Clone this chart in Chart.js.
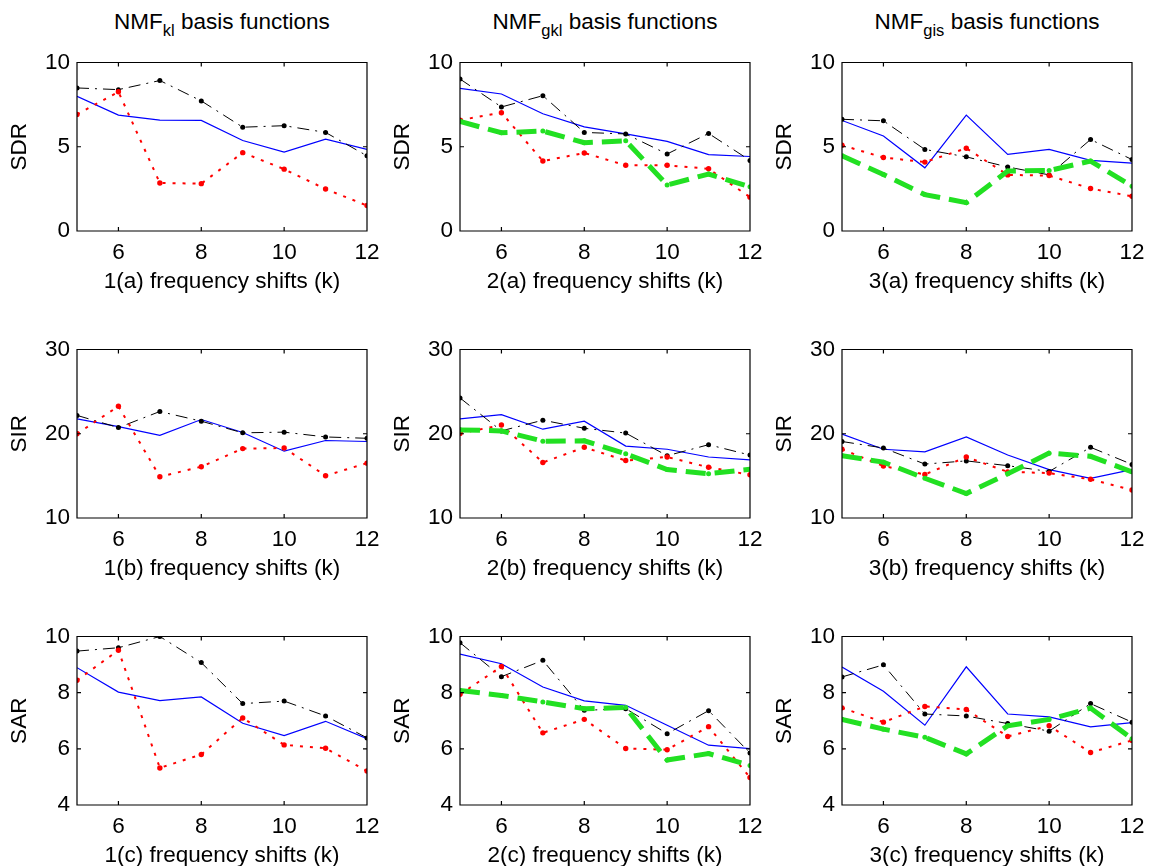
<!DOCTYPE html>
<html><head><meta charset="utf-8">
<script src="https://cdn.jsdelivr.net/npm/chart.js@4/dist/chart.umd.min.js"></script>
<style>
html,body{margin:0;padding:0;background:#fff;}
body{width:1150px;height:866px;position:relative;overflow:hidden;font-family:"Liberation Sans",Arial,sans-serif;color:#000;}
.panel{position:absolute;}
.ctitle{position:absolute;top:8px;width:290px;text-align:center;font-size:22.5px;line-height:27px;white-space:nowrap;}
.ctitle .sb{font-size:16.5px;position:relative;top:7px;}
</style>
</head><body>
<div class="ctitle" style="left:77px">NMF<span class="sb">kl</span> basis functions</div>
<div class="ctitle" style="left:460px">NMF<span class="sb">gkl</span> basis functions</div>
<div class="ctitle" style="left:842px">NMF<span class="sb">gis</span> basis functions</div>
<script>
// ---------- data ----------
const shifts = [5, 6, 7, 8, 9, 10, 11, 12];
const xTicks = [6, 8, 10, 12];
const sdrTicks = [0, 5, 10];
const sirTicks = [10, 20, 30];
const sarTicks = [4, 6, 8, 10];

// NMF_kl
const sdrKlBlue  = [7.99, 6.88, 6.58, 6.56, 5.37, 4.68, 5.45, 4.84];
const sdrKlBlack = [8.49, 8.39, 8.93, 7.72, 6.16, 6.25, 5.85, 4.46];
const sdrKlRed   = [6.92, 8.26, 2.85, 2.81, 4.65, 3.67, 2.49, 1.51];
const sirKlBlue  = [21.76, 20.84, 19.81, 21.69, 20.15, 17.93, 19.20, 19.08];
const sirKlBlack = [22.18, 20.73, 22.64, 21.49, 20.11, 20.19, 19.62, 19.46];
const sirKlRed   = [20.00, 23.26, 14.90, 16.09, 18.24, 18.31, 15.02, 16.51];
const sarKlBlue  = [8.89, 8.02, 7.72, 7.85, 6.91, 6.47, 6.98, 6.36];
const sarKlBlack = [9.48, 9.60, 10.0, 9.07, 7.61, 7.70, 7.17, 6.39];
const sarKlRed   = [8.44, 9.51, 5.32, 5.80, 7.10, 6.14, 6.02, 5.21];

// NMF_gkl
const sdrGklBlue  = [8.47, 8.13, 6.96, 6.18, 5.76, 5.32, 4.53, 4.42];
const sdrGklBlack = [9.02, 7.36, 8.03, 5.85, 5.76, 4.57, 5.79, 4.19];
const sdrGklRed   = [6.58, 7.02, 4.15, 4.63, 3.90, 3.90, 3.69, 2.01];
const sdrGklGreen = [6.50, 5.83, 5.93, 5.24, 5.35, 2.73, 3.38, 2.62];
const sirGklBlue  = [21.76, 22.26, 20.54, 21.49, 18.54, 18.16, 17.24, 16.90];
const sirGklBlack = [24.25, 20.34, 21.61, 20.65, 20.08, 17.39, 18.70, 17.47];
const sirGklRed   = [20.04, 21.03, 16.59, 18.39, 16.82, 17.24, 16.02, 15.13];
const sirGklGreen = [20.46, 20.34, 19.12, 19.16, 17.62, 15.75, 15.25, 15.79];
const sarGklBlue  = [9.37, 9.03, 8.20, 7.71, 7.55, 6.84, 6.13, 6.01];
const sarGklBlack = [9.78, 8.57, 9.15, 7.37, 7.43, 6.54, 7.36, 5.85];
const sarGklRed   = [7.94, 8.93, 6.57, 7.05, 6.01, 5.97, 6.79, 4.98];
const sarGklGreen = [8.08, 7.90, 7.67, 7.43, 7.47, 5.60, 5.83, 5.41];

// NMF_gis
const sdrGisBlue  = [6.56, 5.64, 3.75, 6.88, 4.55, 4.84, 4.19, 4.03];
const sdrGisBlack = [6.63, 6.54, 4.84, 4.40, 3.80, 3.33, 5.43, 4.24];
const sdrGisRed   = [5.09, 4.36, 4.09, 4.91, 3.33, 3.29, 2.52, 2.06];
const sdrGisGreen = [4.46, 3.35, 2.16, 1.68, 3.56, 3.59, 4.15, 2.66];
const sirGisBlue  = [19.96, 18.16, 17.85, 19.62, 17.47, 15.75, 14.71, 15.75];
const sirGisBlack = [19.08, 18.31, 16.40, 16.78, 16.21, 15.52, 18.39, 16.36];
const sirGisRed   = [18.16, 16.17, 15.17, 17.24, 15.48, 15.33, 14.60, 13.33];
const sirGisGreen = [17.39, 16.63, 14.71, 12.91, 15.25, 17.70, 17.32, 15.48];
const sarGisBlue  = [8.91, 8.05, 6.84, 8.92, 7.24, 7.14, 6.78, 6.93];
const sarGisBlack = [8.56, 8.99, 7.24, 7.17, 6.90, 6.63, 7.61, 6.95];
const sarGisRed   = [7.46, 6.95, 7.51, 7.40, 6.44, 6.82, 5.87, 6.30];
const sarGisGreen = [7.05, 6.70, 6.41, 5.82, 6.82, 7.05, 7.45, 6.36];

// ---------- layout ----------
const PAD_TOP = 15, YW = 77, XH = 64, PAD_R = 22, PW = 290, PH = 174;
const FONT = {family: '"Liberation Sans", Arial, sans-serif', size: 22.5, lineHeight: 1.2};

const boxPlugin = {
  id: 'matlabBox',
  afterDatasetsDraw(chart) {
    const {ctx, chartArea: a, scales: {x, y}} = chart;
    ctx.save();
    ctx.strokeStyle = '#000';
    ctx.lineWidth = 1.2;
    ctx.beginPath();
    ctx.rect(a.left, a.top, a.right - a.left, a.bottom - a.top);
    const tl = 4;
    x.ticks.forEach(t => {
      const px = x.getPixelForValue(t.value);
      ctx.moveTo(px, a.bottom); ctx.lineTo(px, a.bottom - tl);
      ctx.moveTo(px, a.top); ctx.lineTo(px, a.top + tl);
    });
    y.ticks.forEach(t => {
      const py = y.getPixelForValue(t.value);
      ctx.moveTo(a.left, py); ctx.lineTo(a.left + tl, py);
      ctx.moveTo(a.right, py); ctx.lineTo(a.right - tl, py);
    });
    ctx.stroke();
    ctx.restore();
  }
};

function pts(vals) { return shifts.map((x, i) => ({x: x, y: vals[i]})); }

const STYLES = {
  green: {color: '#22e022', borderWidth: 5, borderDash: [20, 9], pointRadius: 2.5, order: 0},
  red:   {color: '#ff0000', borderWidth: 2, borderDash: [3, 7], pointRadius: 2.7, order: 1},
  black: {color: '#000000', borderWidth: 1, borderDash: [12, 6, 2, 6], pointRadius: 2.5, order: 2},
  blue:  {color: '#0000ff', borderWidth: 1.2, borderDash: [], pointRadius: 0, order: 3}
};

function makePanel(left, top, yLabel, xLabel, yTicks, series) {
  const div = document.createElement('div');
  div.className = 'panel';
  div.style.left = (left - YW) + 'px';
  div.style.top = (top - PAD_TOP) + 'px';
  div.style.width = (YW + PW + PAD_R) + 'px';
  div.style.height = (PAD_TOP + PH + XH) + 'px';
  const cv = document.createElement('canvas');
  div.appendChild(cv);
  document.body.appendChild(div);

  const datasets = Object.keys(series).map(k => {
    const st = STYLES[k];
    return {
      data: pts(series[k]),
      borderColor: st.color,
      backgroundColor: st.color,
      borderWidth: st.borderWidth,
      borderDash: st.borderDash,
      pointRadius: st.pointRadius,
      pointBorderWidth: 0,
      pointBackgroundColor: st.color,
      pointBorderColor: st.color,
      tension: 0,
      fill: false,
      clip: 0,
      order: st.order
    };
  });

  new Chart(cv, {
    type: 'line',
    data: {datasets: datasets},
    options: {
      responsive: true,
      maintainAspectRatio: false,
      animation: false,
      events: [],
      layout: {padding: {top: PAD_TOP, right: PAD_R, left: 0, bottom: 0}},
      plugins: {legend: {display: false}, tooltip: {enabled: false}, title: {display: false}},
      scales: {
        x: {
          type: 'linear', min: 5, max: 12,
          grid: {display: false, drawTicks: false},
          border: {display: false},
          afterBuildTicks: s => { s.ticks = xTicks.map(v => ({value: v})); },
          afterFit: s => { s.height = XH; },
          ticks: {font: FONT, color: '#000', padding: 8, maxRotation: 0, autoSkip: false},
          title: {display: true, text: xLabel, font: FONT, color: '#000', padding: {top: 0, bottom: 0}}
        },
        y: {
          type: 'linear', min: yTicks[0], max: yTicks[yTicks.length - 1],
          grid: {display: false, drawTicks: false},
          border: {display: false},
          afterBuildTicks: s => { s.ticks = yTicks.map(v => ({value: v})); },
          afterFit: s => { s.width = YW; },
          ticks: {font: FONT, color: '#000', padding: 7},
          title: {display: true, text: yLabel, font: FONT, color: '#000', padding: {top: 6, bottom: 0}}
        }
      }
    },
    plugins: [boxPlugin]
  });
}

const colLeft = [77, 460, 842];
const rowTop = [57, 344, 631];

makePanel(colLeft[0], rowTop[0], 'SDR', '1(a) frequency shifts (k)', sdrTicks, {blue: sdrKlBlue, black: sdrKlBlack, red: sdrKlRed});
makePanel(colLeft[1], rowTop[0], 'SDR', '2(a) frequency shifts (k)', sdrTicks, {blue: sdrGklBlue, black: sdrGklBlack, red: sdrGklRed, green: sdrGklGreen});
makePanel(colLeft[2], rowTop[0], 'SDR', '3(a) frequency shifts (k)', sdrTicks, {blue: sdrGisBlue, black: sdrGisBlack, red: sdrGisRed, green: sdrGisGreen});

makePanel(colLeft[0], rowTop[1], 'SIR', '1(b) frequency shifts (k)', sirTicks, {blue: sirKlBlue, black: sirKlBlack, red: sirKlRed});
makePanel(colLeft[1], rowTop[1], 'SIR', '2(b) frequency shifts (k)', sirTicks, {blue: sirGklBlue, black: sirGklBlack, red: sirGklRed, green: sirGklGreen});
makePanel(colLeft[2], rowTop[1], 'SIR', '3(b) frequency shifts (k)', sirTicks, {blue: sirGisBlue, black: sirGisBlack, red: sirGisRed, green: sirGisGreen});

makePanel(colLeft[0], rowTop[2], 'SAR', '1(c) frequency shifts (k)', sarTicks, {blue: sarKlBlue, black: sarKlBlack, red: sarKlRed});
makePanel(colLeft[1], rowTop[2], 'SAR', '2(c) frequency shifts (k)', sarTicks, {blue: sarGklBlue, black: sarGklBlack, red: sarGklRed, green: sarGklGreen});
makePanel(colLeft[2], rowTop[2], 'SAR', '3(c) frequency shifts (k)', sarTicks, {blue: sarGisBlue, black: sarGisBlack, red: sarGisRed, green: sarGisGreen});
</script>
</body></html>
